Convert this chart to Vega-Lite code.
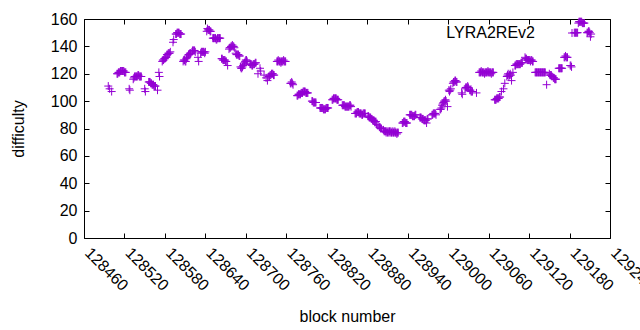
{
  "$schema": "https://vega.github.io/schema/vega-lite/v6.json",
  "width": 526,
  "height": 219,
  "autosize": "none",
  "padding": {"left": 84, "top": 19, "right": 30, "bottom": 92},
  "background": "white",
  "config": {
    "view": {"stroke": "black", "strokeWidth": 1},
    "font": "Liberation Sans",
    "axis": {"labelFontSize": 16, "titleFontSize": 16, "titleFontWeight": "normal", "labelColor": "black", "titleColor": "black", "tickColor": "black", "tickWidth": 1, "domain": false, "grid": false, "labelFont": "Liberation Sans", "titleFont": "Liberation Sans"},
    "legend": {"labelFontSize": 16, "labelFont": "Liberation Sans", "labelColor": "black"}
  },
  "data": {"values": [
    {"block":128496,"difficulty":111},{"block":128498,"difficulty":109},{"block":128501,"difficulty":107},
    {"block":128509,"difficulty":120},{"block":128510,"difficulty":120},{"block":128511,"difficulty":121},{"block":128512,"difficulty":121},{"block":128513,"difficulty":121},{"block":128514,"difficulty":122},{"block":128515,"difficulty":122},{"block":128516,"difficulty":122},{"block":128517,"difficulty":122},{"block":128518,"difficulty":122},{"block":128519,"difficulty":122},{"block":128520,"difficulty":121},{"block":128521,"difficulty":121},{"block":128522,"difficulty":121},
    {"block":128527,"difficulty":109},{"block":128528,"difficulty":108},
    {"block":128533,"difficulty":116},{"block":128534,"difficulty":117},{"block":128535,"difficulty":118},{"block":128536,"difficulty":118},{"block":128537,"difficulty":118},{"block":128538,"difficulty":118},{"block":128539,"difficulty":118},{"block":128540,"difficulty":119},{"block":128541,"difficulty":119},{"block":128542,"difficulty":118},{"block":128543,"difficulty":118},{"block":128544,"difficulty":118},{"block":128545,"difficulty":118},
    {"block":128550,"difficulty":109},{"block":128551,"difficulty":107},
    {"block":128556,"difficulty":114},{"block":128557,"difficulty":114},{"block":128558,"difficulty":114},{"block":128559,"difficulty":113},{"block":128560,"difficulty":113},{"block":128561,"difficulty":112},{"block":128562,"difficulty":112},{"block":128563,"difficulty":112},{"block":128564,"difficulty":111},{"block":128565,"difficulty":111},{"block":128566,"difficulty":111},
    {"block":128569,"difficulty":108},
    {"block":128571,"difficulty":121},{"block":128572,"difficulty":118},
    {"block":128576,"difficulty":129},{"block":128577,"difficulty":130},{"block":128578,"difficulty":130},{"block":128579,"difficulty":131},{"block":128580,"difficulty":131},{"block":128581,"difficulty":132},{"block":128582,"difficulty":132},{"block":128583,"difficulty":134},{"block":128584,"difficulty":134},{"block":128585,"difficulty":135},{"block":128586,"difficulty":135},{"block":128587,"difficulty":135},{"block":128588,"difficulty":136},
    {"block":128592,"difficulty":143},{"block":128593,"difficulty":145},
    {"block":128596,"difficulty":149},{"block":128597,"difficulty":149},{"block":128598,"difficulty":150},{"block":128599,"difficulty":150},{"block":128600,"difficulty":150},{"block":128601,"difficulty":150},{"block":128602,"difficulty":149},{"block":128603,"difficulty":149},{"block":128604,"difficulty":149},
    {"block":128607,"difficulty":129},{"block":128608,"difficulty":130},{"block":128609,"difficulty":130},{"block":128610,"difficulty":129},{"block":128611,"difficulty":129},
    {"block":128612,"difficulty":131},{"block":128613,"difficulty":132},{"block":128614,"difficulty":133},{"block":128615,"difficulty":134},{"block":128616,"difficulty":134},{"block":128617,"difficulty":135},{"block":128618,"difficulty":135},
    {"block":128620,"difficulty":136},{"block":128621,"difficulty":137},{"block":128622,"difficulty":137},{"block":128623,"difficulty":137},{"block":128624,"difficulty":137},{"block":128625,"difficulty":136},
    {"block":128629,"difficulty":132},{"block":128630,"difficulty":129},
    {"block":128633,"difficulty":135},{"block":128634,"difficulty":136},{"block":128635,"difficulty":136},{"block":128636,"difficulty":136},{"block":128637,"difficulty":136},{"block":128638,"difficulty":136},{"block":128639,"difficulty":135},{"block":128640,"difficulty":136},
    {"block":128642,"difficulty":151},{"block":128643,"difficulty":153},{"block":128644,"difficulty":152},{"block":128645,"difficulty":152},{"block":128646,"difficulty":152},{"block":128647,"difficulty":151},{"block":128648,"difficulty":151},
    {"block":128651,"difficulty":146},{"block":128652,"difficulty":146},{"block":128653,"difficulty":146},{"block":128654,"difficulty":146},{"block":128655,"difficulty":146},{"block":128656,"difficulty":145},{"block":128657,"difficulty":145},{"block":128658,"difficulty":146},{"block":128659,"difficulty":146},{"block":128660,"difficulty":146},{"block":128661,"difficulty":146},{"block":128662,"difficulty":146},
    {"block":128664,"difficulty":131},{"block":128665,"difficulty":131},{"block":128666,"difficulty":130},{"block":128667,"difficulty":130},{"block":128668,"difficulty":130},{"block":128669,"difficulty":130},{"block":128670,"difficulty":129},{"block":128671,"difficulty":129},
    {"block":128673,"difficulty":126},
    {"block":128675,"difficulty":138},{"block":128676,"difficulty":139},{"block":128677,"difficulty":139},{"block":128678,"difficulty":140},{"block":128679,"difficulty":140},{"block":128680,"difficulty":141},{"block":128681,"difficulty":140},{"block":128682,"difficulty":140},{"block":128683,"difficulty":139},
    {"block":128685,"difficulty":135},{"block":128686,"difficulty":134},{"block":128687,"difficulty":134},{"block":128688,"difficulty":134},{"block":128689,"difficulty":134},{"block":128690,"difficulty":133},{"block":128691,"difficulty":133},
    {"block":128692,"difficulty":125},
    {"block":128693,"difficulty":124},{"block":128694,"difficulty":124},{"block":128695,"difficulty":125},{"block":128696,"difficulty":126},{"block":128697,"difficulty":127},{"block":128698,"difficulty":128},{"block":128699,"difficulty":129},{"block":128700,"difficulty":130},{"block":128701,"difficulty":130},{"block":128702,"difficulty":129},
    {"block":128706,"difficulty":127},{"block":128707,"difficulty":127},{"block":128708,"difficulty":127},{"block":128709,"difficulty":126},{"block":128710,"difficulty":126},{"block":128711,"difficulty":127},{"block":128712,"difficulty":127},{"block":128713,"difficulty":127},{"block":128714,"difficulty":128},{"block":128715,"difficulty":128},
    {"block":128718,"difficulty":120},{"block":128721,"difficulty":124},{"block":128722,"difficulty":122},
    {"block":128727,"difficulty":119},{"block":128730,"difficulty":117},{"block":128732,"difficulty":115},
    {"block":128734,"difficulty":118},{"block":128735,"difficulty":118},{"block":128736,"difficulty":119},{"block":128737,"difficulty":119},{"block":128738,"difficulty":120},{"block":128739,"difficulty":120},{"block":128740,"difficulty":120},{"block":128741,"difficulty":119},{"block":128742,"difficulty":119},
    {"block":128746,"difficulty":129},{"block":128747,"difficulty":129},{"block":128748,"difficulty":130},{"block":128749,"difficulty":129},{"block":128750,"difficulty":129},{"block":128751,"difficulty":129},{"block":128752,"difficulty":128},{"block":128753,"difficulty":129},{"block":128754,"difficulty":129},{"block":128755,"difficulty":129},{"block":128756,"difficulty":130},{"block":128757,"difficulty":129},{"block":128758,"difficulty":129},{"block":128759,"difficulty":129},
    {"block":128766,"difficulty":113},{"block":128767,"difficulty":113},{"block":128768,"difficulty":114},{"block":128769,"difficulty":113},{"block":128770,"difficulty":112},
    {"block":128776,"difficulty":104},{"block":128777,"difficulty":104},{"block":128778,"difficulty":105},{"block":128779,"difficulty":105},{"block":128780,"difficulty":105},{"block":128781,"difficulty":105},{"block":128782,"difficulty":106},{"block":128783,"difficulty":106},{"block":128784,"difficulty":106},{"block":128785,"difficulty":107},{"block":128786,"difficulty":107},{"block":128787,"difficulty":107},{"block":128788,"difficulty":107},{"block":128789,"difficulty":106},{"block":128790,"difficulty":106},{"block":128791,"difficulty":106},{"block":128792,"difficulty":106},
    {"block":128798,"difficulty":100},{"block":128799,"difficulty":100},{"block":128800,"difficulty":99},{"block":128801,"difficulty":99},{"block":128802,"difficulty":99},{"block":128803,"difficulty":99},{"block":128804,"difficulty":99},
    {"block":128810,"difficulty":95},{"block":128811,"difficulty":95},{"block":128812,"difficulty":95},{"block":128813,"difficulty":95},{"block":128814,"difficulty":95},{"block":128815,"difficulty":94},{"block":128816,"difficulty":94},{"block":128817,"difficulty":94},{"block":128818,"difficulty":94},{"block":128819,"difficulty":95},{"block":128820,"difficulty":95},{"block":128821,"difficulty":95},{"block":128822,"difficulty":95},
    {"block":128828,"difficulty":101},{"block":128829,"difficulty":101},{"block":128830,"difficulty":102},{"block":128831,"difficulty":102},{"block":128832,"difficulty":102},{"block":128833,"difficulty":102},{"block":128834,"difficulty":102},{"block":128835,"difficulty":101},{"block":128836,"difficulty":101},{"block":128837,"difficulty":101},
    {"block":128843,"difficulty":97},{"block":128844,"difficulty":97},{"block":128845,"difficulty":97},{"block":128846,"difficulty":97},{"block":128847,"difficulty":96},{"block":128848,"difficulty":96},{"block":128849,"difficulty":96},{"block":128850,"difficulty":96},{"block":128851,"difficulty":96},{"block":128852,"difficulty":96},{"block":128853,"difficulty":96},{"block":128854,"difficulty":97},{"block":128855,"difficulty":97},{"block":128856,"difficulty":96},
    {"block":128862,"difficulty":91},{"block":128863,"difficulty":91},{"block":128864,"difficulty":91},{"block":128865,"difficulty":92},{"block":128866,"difficulty":92},{"block":128867,"difficulty":92},{"block":128868,"difficulty":91},{"block":128869,"difficulty":91},{"block":128870,"difficulty":91},{"block":128871,"difficulty":91},{"block":128872,"difficulty":90},{"block":128873,"difficulty":90},{"block":128874,"difficulty":91},{"block":128875,"difficulty":91},{"block":128876,"difficulty":91},{"block":128877,"difficulty":91},
    {"block":128881,"difficulty":89},{"block":128882,"difficulty":89},{"block":128883,"difficulty":88},{"block":128884,"difficulty":88},{"block":128885,"difficulty":88},{"block":128886,"difficulty":87},{"block":128887,"difficulty":87},{"block":128888,"difficulty":86},{"block":128889,"difficulty":86},{"block":128890,"difficulty":86},{"block":128891,"difficulty":85},{"block":128892,"difficulty":85},{"block":128893,"difficulty":85},{"block":128894,"difficulty":83},{"block":128896,"difficulty":82},{"block":128898,"difficulty":81},{"block":128899,"difficulty":81},{"block":128900,"difficulty":80},{"block":128901,"difficulty":80},
    {"block":128904,"difficulty":79},{"block":128905,"difficulty":78},{"block":128906,"difficulty":78},{"block":128907,"difficulty":78},{"block":128908,"difficulty":77},{"block":128909,"difficulty":78},{"block":128910,"difficulty":77},{"block":128911,"difficulty":78},{"block":128912,"difficulty":77},{"block":128913,"difficulty":78},{"block":128914,"difficulty":77},{"block":128915,"difficulty":78},{"block":128916,"difficulty":77},{"block":128917,"difficulty":77},{"block":128918,"difficulty":78},{"block":128919,"difficulty":77},{"block":128920,"difficulty":77},{"block":128921,"difficulty":78},{"block":128922,"difficulty":77},{"block":128923,"difficulty":77},{"block":128924,"difficulty":76},{"block":128925,"difficulty":77},{"block":128926,"difficulty":77},
    {"block":128932,"difficulty":84},{"block":128933,"difficulty":84},{"block":128934,"difficulty":85},{"block":128935,"difficulty":85},{"block":128936,"difficulty":85},{"block":128937,"difficulty":84},{"block":128938,"difficulty":84},{"block":128939,"difficulty":84},
    {"block":128943,"difficulty":90},{"block":128944,"difficulty":90},{"block":128945,"difficulty":90},{"block":128946,"difficulty":90},{"block":128947,"difficulty":89},{"block":128948,"difficulty":89},{"block":128949,"difficulty":89},{"block":128950,"difficulty":89},{"block":128951,"difficulty":90},{"block":128952,"difficulty":90},
    {"block":128958,"difficulty":88},{"block":128959,"difficulty":88},{"block":128960,"difficulty":88},{"block":128961,"difficulty":87},{"block":128962,"difficulty":87},{"block":128963,"difficulty":87},{"block":128964,"difficulty":86},{"block":128965,"difficulty":86},{"block":128966,"difficulty":86},{"block":128967,"difficulty":86},{"block":128968,"difficulty":84},{"block":128969,"difficulty":87},{"block":128970,"difficulty":87},
    {"block":128976,"difficulty":90},{"block":128977,"difficulty":90},{"block":128978,"difficulty":91},{"block":128979,"difficulty":91},{"block":128980,"difficulty":91},{"block":128981,"difficulty":91},{"block":128982,"difficulty":90},
    {"block":128988,"difficulty":94},{"block":128989,"difficulty":94},{"block":128990,"difficulty":95},{"block":128991,"difficulty":97},{"block":128992,"difficulty":98},{"block":128993,"difficulty":99},{"block":128994,"difficulty":100},{"block":128995,"difficulty":100},{"block":128996,"difficulty":101},{"block":128997,"difficulty":100},{"block":128999,"difficulty":96},
    {"block":129001,"difficulty":108},{"block":129002,"difficulty":107},{"block":129003,"difficulty":108},{"block":129004,"difficulty":109},
    {"block":129007,"difficulty":113},{"block":129008,"difficulty":114},{"block":129009,"difficulty":114},{"block":129010,"difficulty":115},{"block":129011,"difficulty":115},{"block":129012,"difficulty":114},{"block":129013,"difficulty":114},
    {"block":129020,"difficulty":106},{"block":129021,"difficulty":105},
    {"block":129025,"difficulty":109},{"block":129026,"difficulty":110},{"block":129027,"difficulty":110},{"block":129028,"difficulty":110},{"block":129029,"difficulty":111},{"block":129030,"difficulty":110},
    {"block":129032,"difficulty":108},{"block":129033,"difficulty":108},{"block":129034,"difficulty":107},{"block":129035,"difficulty":107},{"block":129036,"difficulty":107},{"block":129042,"difficulty":106},
    {"block":129046,"difficulty":121},{"block":129047,"difficulty":121},{"block":129048,"difficulty":121},{"block":129049,"difficulty":122},{"block":129050,"difficulty":121},{"block":129051,"difficulty":121},{"block":129052,"difficulty":121},{"block":129053,"difficulty":121},{"block":129054,"difficulty":120},{"block":129055,"difficulty":121},{"block":129056,"difficulty":121},{"block":129057,"difficulty":121},{"block":129058,"difficulty":121},{"block":129059,"difficulty":122},{"block":129060,"difficulty":121},{"block":129061,"difficulty":121},{"block":129062,"difficulty":121},{"block":129063,"difficulty":121},{"block":129064,"difficulty":120},{"block":129065,"difficulty":121},{"block":129066,"difficulty":121},{"block":129067,"difficulty":121},
    {"block":129069,"difficulty":101},{"block":129070,"difficulty":101},{"block":129071,"difficulty":101},{"block":129072,"difficulty":102},{"block":129073,"difficulty":102},{"block":129074,"difficulty":102},{"block":129075,"difficulty":102},{"block":129076,"difficulty":103},{"block":129077,"difficulty":103},
    {"block":129079,"difficulty":107},{"block":129082,"difficulty":109},{"block":129084,"difficulty":113},{"block":129087,"difficulty":118},{"block":129088,"difficulty":119},{"block":129089,"difficulty":120},{"block":129090,"difficulty":118},{"block":129091,"difficulty":119},{"block":129092,"difficulty":120},{"block":129093,"difficulty":119},{"block":129094,"difficulty":115},{"block":129096,"difficulty":121},
    {"block":129099,"difficulty":126},{"block":129100,"difficulty":126},{"block":129101,"difficulty":127},{"block":129102,"difficulty":127},{"block":129103,"difficulty":127},{"block":129104,"difficulty":127},{"block":129105,"difficulty":127},{"block":129106,"difficulty":127},{"block":129107,"difficulty":127},{"block":129108,"difficulty":128},{"block":129109,"difficulty":128},{"block":129110,"difficulty":128},
    {"block":129114,"difficulty":132},{"block":129115,"difficulty":131},{"block":129116,"difficulty":131},{"block":129117,"difficulty":130},{"block":129118,"difficulty":130},{"block":129119,"difficulty":130},{"block":129120,"difficulty":130},{"block":129121,"difficulty":130},{"block":129122,"difficulty":129},{"block":129123,"difficulty":130},{"block":129124,"difficulty":130},{"block":129125,"difficulty":129},{"block":129126,"difficulty":129},
    {"block":129129,"difficulty":121},{"block":129130,"difficulty":121},{"block":129131,"difficulty":121},{"block":129132,"difficulty":121},{"block":129133,"difficulty":121},{"block":129134,"difficulty":121},{"block":129135,"difficulty":121},{"block":129136,"difficulty":121},{"block":129137,"difficulty":121},{"block":129138,"difficulty":121},{"block":129139,"difficulty":121},{"block":129140,"difficulty":121},{"block":129141,"difficulty":121},{"block":129142,"difficulty":121},{"block":129143,"difficulty":121},{"block":129144,"difficulty":121},
    {"block":129146,"difficulty":112},
    {"block":129150,"difficulty":120},{"block":129151,"difficulty":119},{"block":129152,"difficulty":119},{"block":129153,"difficulty":119},{"block":129154,"difficulty":118},{"block":129156,"difficulty":117},{"block":129157,"difficulty":117},{"block":129158,"difficulty":116},{"block":129159,"difficulty":116},{"block":129160,"difficulty":116},
    {"block":129164,"difficulty":124},{"block":129165,"difficulty":124},{"block":129166,"difficulty":124},{"block":129167,"difficulty":124},{"block":129168,"difficulty":124},{"block":129169,"difficulty":124},
    {"block":129172,"difficulty":132},{"block":129173,"difficulty":132},{"block":129174,"difficulty":133},{"block":129175,"difficulty":132},{"block":129176,"difficulty":132},{"block":129177,"difficulty":132},
    {"block":129181,"difficulty":126},{"block":129182,"difficulty":126},{"block":129183,"difficulty":125},
    {"block":129187,"difficulty":150},{"block":129188,"difficulty":150},{"block":129189,"difficulty":150},{"block":129190,"difficulty":150},{"block":129191,"difficulty":150},{"block":129192,"difficulty":150},
    {"block":129193,"difficulty":157},{"block":129194,"difficulty":158},{"block":129195,"difficulty":158},{"block":129196,"difficulty":158},{"block":129197,"difficulty":158},{"block":129198,"difficulty":158},{"block":129199,"difficulty":157},{"block":129200,"difficulty":157},{"block":129201,"difficulty":157},{"block":129202,"difficulty":157},
    {"block":129206,"difficulty":150},{"block":129207,"difficulty":150},{"block":129208,"difficulty":151},{"block":129209,"difficulty":151},{"block":129210,"difficulty":150},{"block":129211,"difficulty":147},{"block":129212,"difficulty":149}
  ]},
  "layer": [
    {
      "mark": {"type": "point", "shape": "M-1,0H1M0,-1V1", "filled": false, "strokeWidth": 1, "size": 64, "opacity": 1, "clip": false},
      "encoding": {
        "x": {"field": "block", "type": "quantitative", "scale": {"domain": [128460, 129240], "nice": false, "zero": false},
          "axis": {"orient": "bottom", "values": [128460,128520,128580,128640,128700,128760,128820,128880,128940,129000,129060,129120,129180,129240], "format": "d", "labelAngle": 45, "labelAlign": "left", "labelBaseline": "middle", "labelPadding": 17, "labelOffset": 3, "labelOverlap": false, "labelFlush": false, "labelBound": false, "tickSize": -5, "title": "block number", "titlePadding": 15}},
        "y": {"field": "difficulty", "type": "quantitative", "scale": {"domain": [0, 160], "nice": false, "zero": true},
          "axis": {"orient": "left", "values": [0,20,40,60,80,100,120,140,160], "labelPadding": 12, "tickSize": -5, "labelFlush": false, "labelOverlap": false, "title": "difficulty", "titlePadding": 24}},
        "color": {"datum": "LYRA2REv2", "type": "nominal", "scale": {"range": ["#9400D3"]},
          "legend": {"title": null, "orient": "none", "legendX": 480, "legendY": 6, "padding": 0, "labelAlign": "right", "labelOffset": -45, "labelFontSize": 16, "labelFont": "Liberation Sans", "labelColor": "black", "labelLimit": 300, "symbolType": "M-1,0H1M0,-1V1", "symbolSize": 64, "symbolStrokeWidth": 1, "symbolStrokeColor": "#9400D3", "symbolFillColor": "transparent", "symbolOpacity": 1,
            "encode": {"labels": {"update": {"fontSize": {"value": 16}, "font": {"value": "Liberation Sans"}}}}}}
      }
    },
    {
      "mark": {"type": "point", "opacity": 0},
      "encoding": {
        "x": {"field": "block", "type": "quantitative", "scale": {"domain": [128460, 129240], "nice": false, "zero": false},
          "axis": {"orient": "top", "values": [128460,128520,128580,128640,128700,128760,128820,128880,128940,129000,129060,129120,129180,129240], "labels": false, "tickSize": -5, "title": null}},
        "y": {"field": "difficulty", "type": "quantitative", "scale": {"domain": [0, 160], "nice": false, "zero": true},
          "axis": {"orient": "right", "values": [0,20,40,60,80,100,120,140,160], "labels": false, "tickSize": -5, "title": null}}
      }
    }
  ],
  "resolve": {"axis": {"x": "independent", "y": "independent"}}
}
